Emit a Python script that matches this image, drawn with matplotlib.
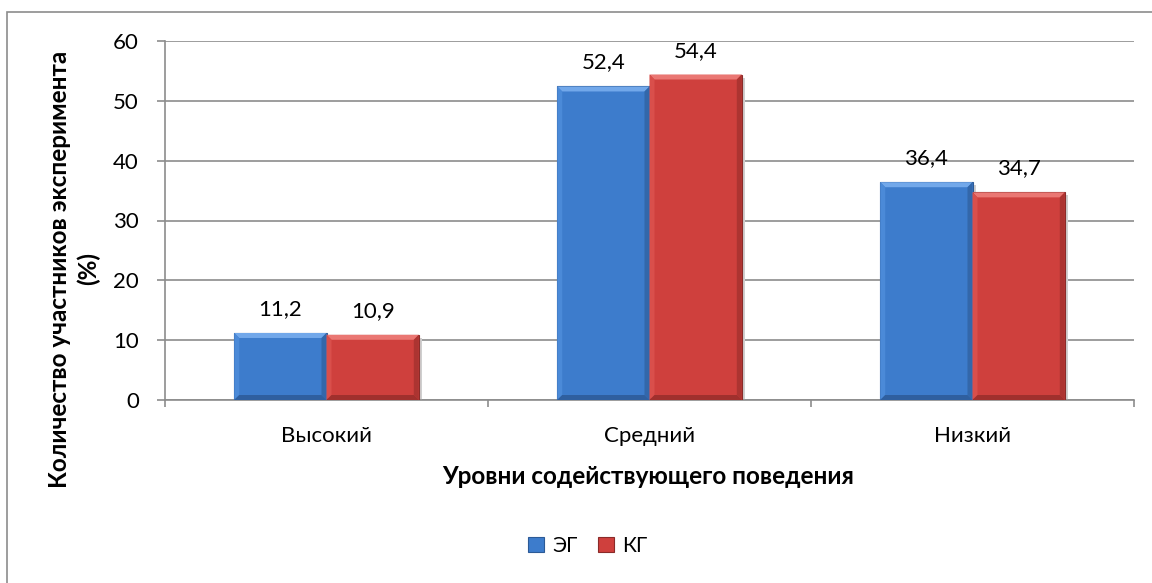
import matplotlib
matplotlib.use("Agg")
import matplotlib.pyplot as plt
from matplotlib.patches import Polygon, Rectangle
from matplotlib.transforms import IdentityTransform
import numpy as np

categories = ["Высокий", "Средний", "Низкий"]
series_names = ["ЭГ", "КГ"]
eg_values = [11.2, 52.4, 36.4]
kg_values = [10.9, 54.4, 34.7]
value_labels_eg = ["11,2", "52,4", "36,4"]
value_labels_kg = ["10,9", "54,4", "34,7"]
yticks = [0, 10, 20, 30, 40, 50, 60]
y_title = "Количество участников эксперимента\n(%)"
x_title = "Уровни содействующего поведения"

plt.rcParams['font.family'] = ['Lato', 'DejaVu Sans']

W, H = 1152, 583
fig = plt.figure(figsize=(W / 100, H / 100), dpi=100)
fig.patch.set_facecolor("white")

# outer chart border (only top/left visible)
fig.add_artist(Rectangle((7 / W, -0.05), 1.2, (583 - 12) / H + 0.05, transform=fig.transFigure,
                         fill=False, edgecolor="#8c8c8c", linewidth=1.2))

ax = fig.add_axes([165 / W, 1 - 400 / H, (1134 - 165) / W, (400 - 41) / H])
ax.set_xlim(-0.5, 2.5)
ax.set_ylim(0, 60)

x = np.arange(len(categories))
w = 1 / 3.5
blue = "#3D7CCC"
red = "#CF403D"
b1 = ax.bar(x - w / 2, eg_values, w, color=blue, edgecolor="#2C5A96", linewidth=0.8, zorder=3, label=series_names[0])
b2 = ax.bar(x + w / 2, kg_values, w, color=red, edgecolor="#8A2B29", linewidth=0.8, zorder=3, label=series_names[1])

ax.set_yticks(yticks)
ax.set_yticklabels([str(t) for t in yticks], fontsize=16)
ax.grid(axis="y", color="#8c8c8c", linewidth=1.2, zorder=0)
ax.set_axisbelow(True)
for s in ["top", "right"]:
    ax.spines[s].set_visible(False)
for s in ["left", "bottom"]:
    ax.spines[s].set_color("#8c8c8c")
    ax.spines[s].set_linewidth(1.2)
ax.tick_params(axis="y", length=5.8, width=1.2, color="#8c8c8c", pad=13)
ax.set_xticks([-0.5, 0.5, 1.5, 2.5], minor=False)
ax.set_xticklabels([])
ax.tick_params(axis="x", length=5, width=1.2, color="#8c8c8c", direction="out")
ax.set_xticks(x, minor=True)
ax.set_xticklabels(categories, minor=True, fontsize=16)
ax.tick_params(axis="x", which="minor", length=0, pad=19)

fig.text(74 / W, 1 - 269 / H, y_title, rotation=90, ha="center", va="center", multialignment="center",
         fontsize=17.5, fontweight="bold", linespacing=1.25)
fig.text(648 / W, 1 - 476 / H, x_title, ha="center", va="center", fontsize=17.5, fontweight="bold")

for bars, labels in [(b1, value_labels_eg), (b2, value_labels_kg)]:
    for b, lab in zip(bars, labels):
        ax.annotate(lab, (b.get_x() + b.get_width() / 2, b.get_height()), xytext=(0, 10),
                    textcoords="offset points", ha="center", va="bottom", fontsize=16)

# bevel effect computed from each bar's geometry
fig.canvas.draw()
def bevel(bar, light, dark, top, bottom):
    x0, y0 = ax.transData.transform((bar.get_x(), 0))
    x1, y1 = ax.transData.transform((bar.get_x() + bar.get_width(), bar.get_height()))
    d = 5
    ax.add_patch(Rectangle((x0 + 3, y0 - 3), x1 - x0, y1 - y0, transform=IdentityTransform(),
                           facecolor="#cfcfcf", edgecolor="none", zorder=2.5))
    polys = [
        ([(x0, y1), (x1, y1), (x1 - d, y1 - d), (x0 + d, y1 - d)], top),
        ([(x0, y1), (x0 + d, y1 - d), (x0 + d, y0 + d), (x0, y0)], light),
        ([(x1, y1), (x1 - d, y1 - d), (x1 - d, y0 + d), (x1, y0)], dark),
        ([(x0, y0), (x0 + d, y0 + d), (x1 - d, y0 + d), (x1, y0)], bottom),
    ]
    for pts, c in polys:
        ax.add_patch(Polygon(pts, closed=True, transform=IdentityTransform(), facecolor=c,
                             edgecolor="none", zorder=3.5))

for b in b1:
    bevel(b, "#4B8AD8", "#3367AA", "#72A8EA", "#2F5F9F")
for b in b2:
    bevel(b, "#D94F4B", "#AC3431", "#EA7773", "#A0302D")

# legend
fig.legend(handles=[b1, b2], labels=series_names, loc="center", bbox_to_anchor=(588 / W, 1 - 546 / H),
           ncol=2, frameon=False, fontsize=15, handlelength=0.75, handleheight=0.75,
           handletextpad=0.4, columnspacing=1.0)

fig.savefig("out.png", dpi=100, facecolor="white")
